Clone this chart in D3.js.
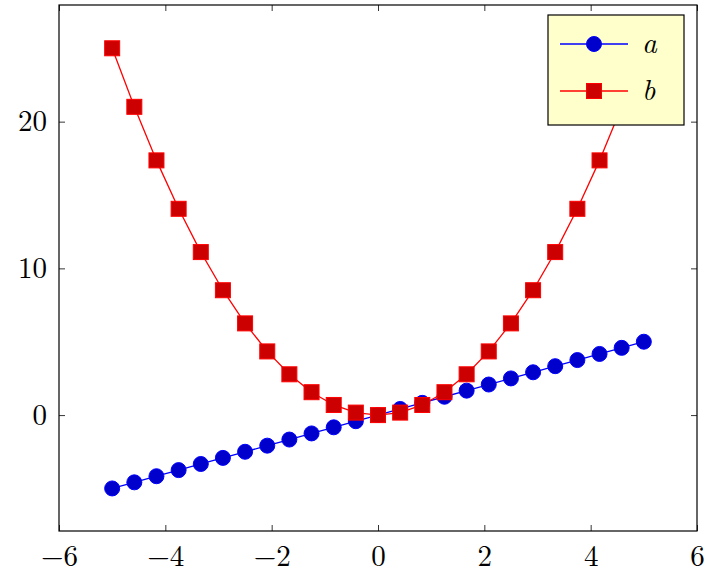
<!DOCTYPE html>
<html><head><meta charset="utf-8">
<script src="https://cdn.jsdelivr.net/npm/d3@7/dist/d3.min.js"></script>
<style>body{margin:0;background:#fff}</style></head>
<body><svg id="c" width="712" height="578"></svg>
<script>
const xs = [-5,-4.583,-4.167,-3.75,-3.333,-2.917,-2.5,-2.083,-1.667,-1.25,-0.833,-0.417,0,0.417,0.833,1.25,1.667,2.083,2.5,2.917,3.333,3.75,4.167,4.583,5];
const aVals = [-5,-4.583,-4.167,-3.75,-3.333,-2.917,-2.5,-2.083,-1.667,-1.25,-0.833,-0.417,0,0.417,0.833,1.25,1.667,2.083,2.5,2.917,3.333,3.75,4.167,4.583,5];
const bVals = [25,21.01,17.36,14.06,11.11,8.51,6.25,4.34,2.78,1.56,0.69,0.17,0,0.17,0.69,1.56,2.78,4.34,6.25,8.51,11.11,14.06,17.36,21.01,25];
const xTicks = [-6,-4,-2,0,2,4,6];
const yTicks = [0,10,20];
const svg = d3.select("#c");
const L=59,R=697,T=5,B=531;
const x = d3.scaleLinear().domain([-6,6]).range([L,R]);
const y = d3.scaleLinear().domain([-7.9,27.95]).range([B,T]);
const font = "'Latin Modern Roman','Liberation Serif','DejaVu Serif',serif";
const clip = svg.append("clipPath").attr("id","cl").append("rect").attr("x",L).attr("y",T).attr("width",R-L).attr("height",B-T);
const g = svg.append("g");
// ticks
const ax = [
  [d3.axisBottom(x).tickValues(xTicks).tickSize(-6).tickFormat(d=>d<0?"\u2212"+(-d):d), `translate(0,${B})`, true],
  [d3.axisTop(x).tickValues(xTicks).tickSize(-6).tickFormat(""), `translate(0,${T})`, false],
  [d3.axisLeft(y).tickValues(yTicks).tickSize(-6), `translate(${L},0)`, true],
  [d3.axisRight(y).tickValues(yTicks).tickSize(-6).tickFormat(""), `translate(${R},0)`, false]
];
ax.forEach(([a,t,lab],i)=>{
  const s=g.append("g").attr("transform",t).call(a.tickPadding(i===0?14:12));
  s.select(".domain").remove();
  s.selectAll("line").attr("stroke","#000").attr("stroke-width",0.8);
  s.selectAll("text").attr("font-family",font).attr("font-size",29).attr("fill","#000");
});
g.append("rect").attr("x",L).attr("y",T).attr("width",R-L).attr("height",B-T).attr("fill","none").attr("stroke","#000").attr("stroke-width",1.2);
const pg = svg.append("g").attr("clip-path","url(#cl)");
const line = d3.line();
// a
pg.append("path").attr("d",line(xs.map((v,i)=>[x(v),y(aVals[i])]))).attr("fill","none").attr("stroke","#0000ff").attr("stroke-width",1.3);
pg.selectAll(".ca").data(xs).enter().append("circle").attr("cx",d=>x(d)).attr("cy",(d,i)=>y(aVals[i])).attr("r",7.5).attr("fill","#0000cc").attr("stroke","#0000ff").attr("stroke-width",1);
// b
pg.append("path").attr("d",line(xs.map((v,i)=>[x(v),y(bVals[i])]))).attr("fill","none").attr("stroke","#ff0000").attr("stroke-width",1.3);
pg.selectAll(".sb").data(xs).enter().append("rect").attr("x",d=>x(d)-7.5).attr("y",(d,i)=>y(bVals[i])-7.5).attr("width",15).attr("height",15).attr("fill","#cc0000").attr("stroke","#ff0000").attr("stroke-width",1);
// legend
const lg = svg.append("g");
lg.append("rect").attr("x",548).attr("y",15).attr("width",136).attr("height",110).attr("fill","#ffffcc").attr("stroke","#000").attr("stroke-width",1.2);
const items=[["a","#0000ff","#0000cc","c"],["b","#ff0000","#cc0000","s"]];
items.forEach(([n,sc,fc,m],i)=>{
  const yy=44+i*47;
  lg.append("line").attr("x1",560).attr("x2",628).attr("y1",yy).attr("y2",yy).attr("stroke",sc).attr("stroke-width",1.3);
  if(m==="c") lg.append("circle").attr("cx",594).attr("cy",yy).attr("r",7.5).attr("fill",fc).attr("stroke",sc);
  else lg.append("rect").attr("x",586.5).attr("y",yy-7.5).attr("width",15).attr("height",15).attr("fill",fc).attr("stroke",sc);
  lg.append("text").attr("x",642).attr("y",yy+9).attr("font-family",font).attr("font-style","italic").attr("font-size",29).text(n);
});
</script></body></html>
